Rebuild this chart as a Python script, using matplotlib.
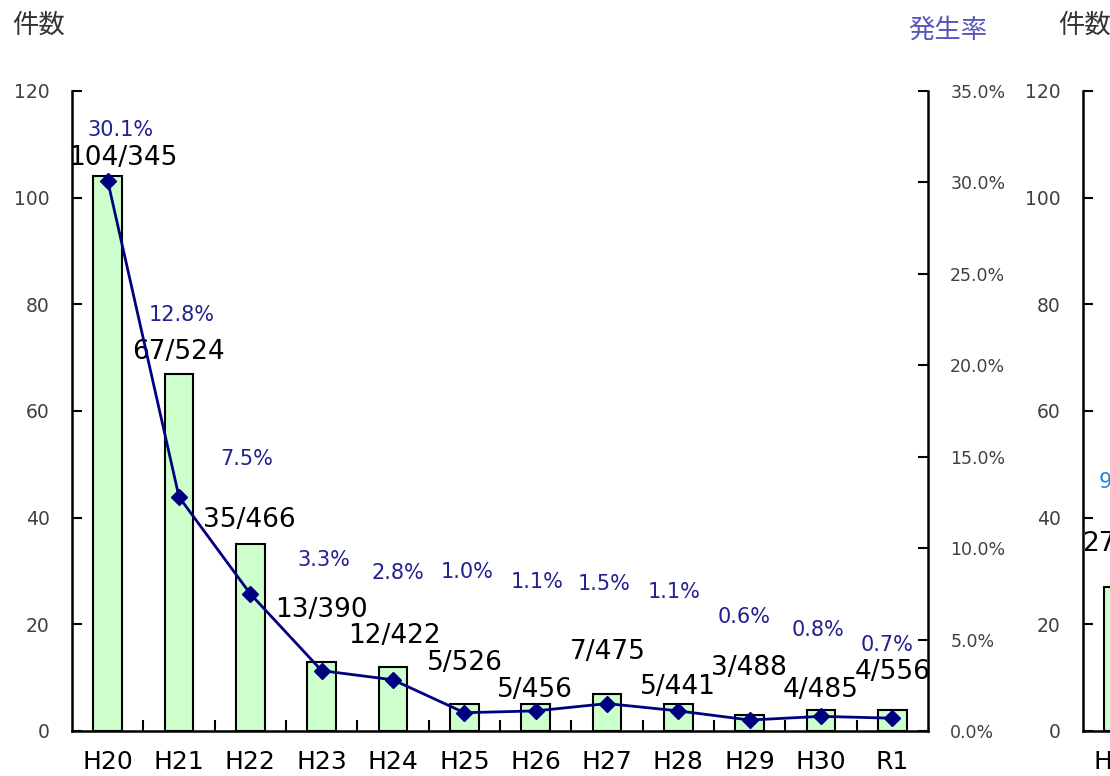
import matplotlib
matplotlib.use('Agg')
import matplotlib.pyplot as plt
import numpy as np

plt.rcParams['font.family'] = ['DejaVu Sans', 'Noto Sans CJK JP']

# data
years = ['H20', 'H21', 'H22', 'H23', 'H24', 'H25', 'H26', 'H27', 'H28', 'H29', 'H30', 'R1']
counts = [104, 67, 35, 13, 12, 5, 5, 7, 5, 3, 4, 4]
totals = [345, 524, 466, 390, 422, 526, 456, 475, 441, 488, 485, 556]
rates = [30.1, 12.8, 7.5, 3.3, 2.8, 1.0, 1.1, 1.5, 1.1, 0.6, 0.8, 0.7]

# partly visible second chart at the right edge
years2 = ['H20']
counts2 = [27]

# label offsets (pixels) picked to mimic the original placement
cnt_off = [(15, 18), (-1, 22), (-1, 24), (0, 52), (1, 31), (1, 41),
           (-1, 14), (1, 42), (0, 17), (-1, 47), (0, 20), (0, 38)]
rate_off = [(13, 51), (3, 182), (-4, 135), (2, 111), (5, 107), (3, 141),
            (1, 129), (-3, 120), (-4, 119), (-6, 103), (-3, 86), (-5, 73)]

W, H = 1110, 776
fig = plt.figure(figsize=(W / 100, H / 100), dpi=100)
bottom = 1 - 731 / H
height = (731 - 91) / H
ax = fig.add_axes([72 / W, bottom, (928 - 72) / W, height])
ax2 = ax.twinx()

x = np.arange(len(years))
ax.bar(x, counts, width=0.4, color='#ccffcc', edgecolor='black', linewidth=1.5, zorder=2)
ax2.plot(x, rates, color='#000080', linewidth=2, marker='D', markersize=8.5,
         markerfacecolor='#000080', zorder=3)

ax.set_xlim(-0.5, len(years) - 0.5)
ax.set_ylim(0, 120)
ax2.set_ylim(0, 35)
ax.set_yticks(range(0, 121, 20))
ax2.set_yticks(np.arange(0, 35.1, 5))
ax2.set_yticklabels([f'{v:.1f}%' for v in np.arange(0, 35.1, 5)])
ax.set_xticks(x)
ax.set_xticklabels(years, fontsize=18)
ax.set_xticks(np.arange(0.5, len(years) - 1, 1), minor=True)

ax.tick_params(axis='x', which='major', length=0, pad=14)
ax.tick_params(axis='x', which='minor', direction='in', length=8, width=1.5)
ax.tick_params(axis='y', direction='in', length=7, width=1.5, pad=16,
               labelsize=13.5, labelcolor='#404040')
ax2.tick_params(axis='y', direction='in', length=7, width=1.5, pad=16,
                labelsize=12.5, labelcolor='#404040')

for a in (ax, ax2):
    a.spines['top'].set_visible(False)
    for s in ('left', 'right', 'bottom'):
        a.spines[s].set_linewidth(1.8)
ax.spines['right'].set_visible(False)
ax2.spines['left'].set_visible(False)
ax2.spines['bottom'].set_visible(False)

px = 0.72  # pixel -> point
for i in range(len(years)):
    dx, dy = cnt_off[i]
    ax.annotate(f'{counts[i]}/{totals[i]}', (x[i], counts[i]),
                xytext=(dx * px, dy * px), textcoords='offset points',
                ha='center', va='center', fontsize=19, color='black', zorder=5)
    dx, dy = rate_off[i]
    ax2.annotate(f'{rates[i]:.1f}%', (x[i], rates[i]),
                 xytext=(dx * px, dy * px), textcoords='offset points',
                 ha='center', va='center', fontsize=15, color='#202090', zorder=5)

fig.text(12 / W, 1 - 25 / H, '件数', fontsize=19, color='#333333',
         family=['Noto Sans CJK JP'], ha='left', va='center')
fig.text(908 / W, 1 - 30 / H, '発生率', fontsize=19, color='#5555bb',
         family=['Noto Sans CJK JP'], ha='left', va='center')

# second chart (cut off by the figure edge, as in the original)
ax3 = fig.add_axes([1083 / W, bottom, (928 - 72) / W, height])
x2 = np.arange(len(years2))
ax3.bar(x2, counts2, width=0.4, color='#ccffcc', edgecolor='black', linewidth=1.5)
ax3.set_xlim(-0.5, 11.5)
ax3.set_ylim(0, 120)
ax3.set_yticks(range(0, 121, 20))
ax3.set_xticks(x2)
ax3.set_xticklabels(years2, fontsize=18)
ax3.tick_params(axis='x', length=0, pad=14)
ax3.tick_params(axis='y', direction='in', length=7, width=1.5, pad=16,
                labelsize=13.5, labelcolor='#404040')
ax3.spines['top'].set_visible(False)
ax3.spines['right'].set_visible(False)
for s in ('left', 'bottom'):
    ax3.spines[s].set_linewidth(1.8)
ax3.annotate(f'{counts2[0]}/', (x2[0], counts2[0]), xytext=(-15 * px, 43 * px),
             textcoords='offset points', ha='center', va='center', fontsize=19)
ax3.annotate('9.', (x2[0], counts2[0]), xytext=(-10 * px, 105 * px),
             textcoords='offset points', ha='center', va='center', fontsize=15,
             color='#1e88e5')
fig.text(1058 / W, 1 - 25 / H, '件数', fontsize=19, color='#333333',
         family=['Noto Sans CJK JP'], ha='left', va='center')

fig.savefig('out.png', dpi=100)
